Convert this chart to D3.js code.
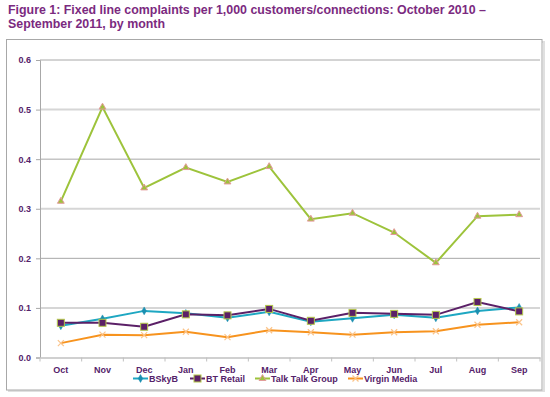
<!DOCTYPE html>
<html><head><meta charset="utf-8">
<script src="https://cdn.jsdelivr.net/npm/d3@7"></script>
<style>body{margin:0;background:#fff}svg{display:block}</style>
</head><body>
<svg id="c" width="550" height="397"></svg>
<script>
const months = ["Oct","Nov","Dec","Jan","Feb","Mar","Apr","May","Jun","Jul","Aug","Sep"];
const yTicks = [0,0.1,0.2,0.3,0.4,0.5,0.6];
const bskyb = [0.064,0.078,0.094,0.089,0.080,0.092,0.072,0.079,0.086,0.080,0.094,0.101];
const btRetail = [0.070,0.070,0.062,0.087,0.085,0.098,0.074,0.090,0.088,0.086,0.112,0.093];
const talkTalk = [0.315,0.505,0.342,0.383,0.354,0.385,0.279,0.291,0.252,0.191,0.285,0.288];
const virgin = [0.029,0.046,0.045,0.052,0.041,0.055,0.051,0.046,0.051,0.053,0.066,0.071];
const seriesNames = ["BSkyB","BT Retail","Talk Talk Group","Virgin Media"];

const svg = d3.select("#c");
const font = "'Liberation Sans', Arial, sans-serif";
const txtCol = "#55226a";
const titleCol = "#7b2a80";

// title
svg.append("text").attr("x",8).attr("y",14).attr("font-family",font).attr("font-weight","bold")
  .attr("font-size",12.4).attr("fill",titleCol).text("Figure 1: Fixed line complaints per 1,000 customers/connections: October 2010 \u2013");
svg.append("text").attr("x",8).attr("y",28).attr("font-family",font).attr("font-weight","bold")
  .attr("font-size",12.4).attr("fill",titleCol).text("September 2011, by month");

// frame
svg.append("rect").attr("x",9).attr("y",42).attr("width",535).attr("height",349).attr("fill","none")
  .attr("stroke","#e0e0e0").attr("stroke-width",2);
svg.append("rect").attr("x",6.5).attr("y",39.5).attr("width",535.5).attr("height",350.5).attr("fill","#fff")
  .attr("stroke","#a8a8a8").attr("stroke-width",1);

const x = d3.scaleBand().domain(months).range([40,540]).padding(0);
const y = d3.scaleLinear().domain([0,0.6]).range([357.5,60]);

// gridlines
svg.append("g").selectAll("line").data(yTicks.filter(d=>d>0)).join("line")
  .attr("x1",40).attr("x2",540).attr("y1",d=>y(d)).attr("y2",d=>y(d))
  .attr("stroke",(d,i)=> i%2===0 ? "#d6d6d6":"#a8a8a8").attr("stroke-width",(d,i)=>i%2===0?2:1);

// y axis
const ya = svg.append("g").attr("transform","translate(40,0)")
  .call(d3.axisLeft(y).tickValues(yTicks).tickFormat(d3.format(".1f")).tickSize(4).tickPadding(5));
ya.select(".domain").attr("stroke","#a8a8a8");
ya.selectAll(".tick line").attr("stroke","#a8a8a8");
ya.selectAll("text").attr("font-family",font).attr("font-weight","bold").attr("font-size",9).attr("fill",txtCol);

// x axis
const xa = svg.append("g").attr("transform","translate(0,357.5)")
  .call(d3.axisBottom(x).tickSize(0).tickPadding(9));
xa.select(".domain").attr("stroke","#d0d0d0").attr("stroke-width",2);
xa.selectAll("text").attr("font-family",font).attr("font-weight","bold").attr("font-size",9).attr("fill",txtCol);
svg.append("g").selectAll("line").data(months.concat(["end"])).join("line")
  .attr("x1",(d,i)=>40+i*x.step()).attr("x2",(d,i)=>40+i*x.step())
  .attr("y1",357.5).attr("y2",361.5).attr("stroke","#c0c0c0");

const cx = m => x(m)+x.bandwidth()/2;
const line = d3.line().x((d,i)=>cx(months[i])).y(d=>y(d));

const specs = [
  {name:"Talk Talk Group", data:talkTalk, color:"#9dc33b", marker:"tri"},
  {name:"Virgin Media", data:virgin, color:"#f7931e", marker:"x"},
  {name:"BSkyB", data:bskyb, color:"#1ea7c2", marker:"diamond"},
  {name:"BT Retail", data:btRetail, color:"#5b2067", marker:"square"},
];

function drawMarker(g, type, px, py){
  if(type==="tri"){
    g.append("path").attr("d",d3.symbol(d3.symbolTriangle,20)()).attr("transform",`translate(${px},${py})`)
      .attr("fill","#9dc33b").attr("stroke","#e39a9a").attr("stroke-width",1);
  } else if(type==="x"){
    g.append("path").attr("d",`M${px-3},${py-3}L${px+3},${py+3}M${px-3},${py+3}L${px+3},${py-3}`)
      .attr("stroke","#fbc48a").attr("stroke-width",1.2);
  } else if(type==="diamond"){
    g.append("path").attr("d",d3.symbol(d3.symbolDiamond,18)()).attr("transform",`translate(${px},${py})`)
      .attr("fill","#1a8fb0").attr("stroke","#1a8fb0").attr("stroke-width",0.5);
  } else if(type==="square"){
    g.append("rect").attr("x",px-3.5).attr("y",py-3.5).attr("width",7).attr("height",7)
      .attr("fill","#5b2067").attr("stroke","#b4c84a").attr("stroke-width",1);
  }
}

specs.forEach(s=>{
  const g = svg.append("g");
  g.append("path").datum(s.data).attr("d",line).attr("fill","none").attr("stroke",s.color).attr("stroke-width",2);
  s.data.forEach((v,i)=>drawMarker(g,s.marker,cx(months[i]),y(v)));
});

// legend
const legendX = [133,190,255,348];
const legendSpec = {"BSkyB":specs[2],"BT Retail":specs[3],"Talk Talk Group":specs[0],"Virgin Media":specs[1]};
seriesNames.forEach((n,i)=>{
  const s = legendSpec[n];
  const g = svg.append("g");
  const lx = legendX[i];
  g.append("line").attr("x1",lx).attr("x2",lx+15).attr("y1",378.5).attr("y2",378.5).attr("stroke",s.color).attr("stroke-width",2);
  drawMarker(g,s.marker,lx+7.5,378.5);
  g.append("text").attr("x",lx+16).attr("y",382).attr("font-family",font).attr("font-weight","bold")
    .attr("font-size",9).attr("fill",txtCol).text(n);
});
</script>
</body></html>
